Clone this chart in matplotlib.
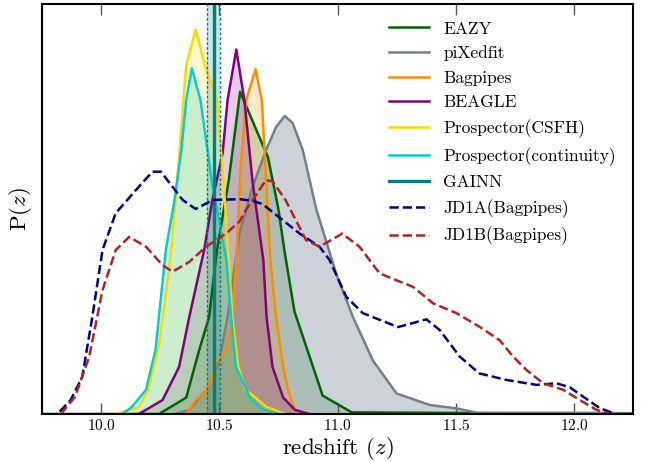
import numpy as np
import matplotlib
matplotlib.use("Agg")
import matplotlib.pyplot as plt

plt.rcParams['font.family'] = 'cmr10'
plt.rcParams['mathtext.fontset'] = 'cm'
plt.rcParams['axes.formatter.use_mathtext'] = True

# posterior curves (arbitrary units, 0..1)
eazy_z = [9.75, 10.245, 10.36, 10.415, 10.457, 10.49, 10.54, 10.588, 10.706, 10.75, 10.775,
          10.818, 10.937, 11.06, 12.25]
eazy_p = [0, 0, 0.04, 0.156, 0.237, 0.40, 0.57, 0.786, 0.626, 0.50, 0.40,
          0.25, 0.045, 0.004, 0]

pix_z = [10.31, 10.373, 10.444, 10.50, 10.535, 10.585, 10.64, 10.698, 10.74, 10.777, 10.81,
         10.853, 10.91, 10.994, 11.065, 11.15, 11.25, 11.39, 11.50, 11.59, 12.0, 12.25]
pix_p = [0, 0.01, 0.058, 0.13, 0.237, 0.44, 0.553, 0.644, 0.70, 0.727, 0.71,
         0.644, 0.50, 0.343, 0.237, 0.13, 0.05, 0.022, 0.014, 0.003, 0.003, 0.002]

bag_z = [10.36, 10.40, 10.436, 10.465, 10.49, 10.528, 10.556, 10.572, 10.59, 10.614, 10.653,
         10.68, 10.70, 10.716, 10.74, 10.77, 10.79, 10.825]
bag_p = [0, 0.034, 0.05, 0.083, 0.13, 0.156, 0.237, 0.376, 0.60, 0.766, 0.841,
         0.766, 0.55, 0.376, 0.237, 0.115, 0.06, 0]

bea_z = [10.16, 10.26, 10.33, 10.373, 10.436, 10.47, 10.514, 10.535, 10.572, 10.606, 10.64,
         10.686, 10.70, 10.725, 10.77, 10.82, 10.88]
bea_p = [0, 0.034, 0.115, 0.237, 0.40, 0.52, 0.636, 0.766, 0.889, 0.766, 0.57,
         0.376, 0.237, 0.115, 0.04, 0.01, 0]

csfh_z = [10.06, 10.16, 10.20, 10.245, 10.28, 10.30, 10.34, 10.36, 10.40, 10.44, 10.49,
          10.52, 10.54, 10.555, 10.58, 10.61, 10.70, 10.78]
csfh_p = [0, 0.017, 0.06, 0.17, 0.32, 0.42, 0.70, 0.85, 0.938, 0.85, 0.766,
          0.55, 0.376, 0.237, 0.115, 0.06, 0.017, 0]

cont_z = [10.09, 10.13, 10.19, 10.23, 10.274, 10.31, 10.338, 10.36, 10.384, 10.42, 10.44,
          10.47, 10.53, 10.55, 10.57, 10.63, 10.68, 10.75]
cont_p = [0, 0.017, 0.059, 0.156, 0.40, 0.52, 0.636, 0.766, 0.843, 0.766, 0.685,
          0.56, 0.376, 0.237, 0.115, 0.04, 0.012, 0]

gainn_med = 10.477
gainn_lo = 10.45
gainn_hi = 10.503

jd1a_z = [9.825, 9.871, 9.92, 9.963, 10.006, 10.062, 10.147, 10.217, 10.253, 10.345, 10.40,
          10.472, 10.585, 10.64, 10.683, 10.768, 10.84, 10.924, 10.966, 11.037, 11.107,
          11.256, 11.376, 11.432, 11.517, 11.60, 11.715, 11.842, 11.926, 11.983, 12.04,
          12.11, 12.167]
jd1a_p = [0.006, 0.034, 0.09, 0.237, 0.40, 0.49, 0.546, 0.591, 0.591, 0.522, 0.50,
          0.522, 0.524, 0.52, 0.512, 0.473, 0.44, 0.408, 0.376, 0.286, 0.246,
          0.212, 0.231, 0.205, 0.14, 0.099, 0.083, 0.071, 0.075, 0.065, 0.042,
          0.014, 0.002]

jd1b_z = [9.83, 9.89, 9.95, 10.006, 10.062, 10.119, 10.19, 10.26, 10.302, 10.373, 10.444,
          10.528, 10.585, 10.613, 10.698, 10.726, 10.78, 10.867, 10.924, 11.02, 11.093,
          11.178, 11.263, 11.32, 11.404, 11.503, 11.60, 11.686, 11.743, 11.80, 11.87,
          11.955, 12.025, 12.096, 12.15]
jd1b_p = [0, 0.042, 0.14, 0.302, 0.40, 0.432, 0.408, 0.363, 0.347, 0.371, 0.408,
          0.44, 0.469, 0.498, 0.571, 0.567, 0.522, 0.424, 0.408, 0.44, 0.408,
          0.343, 0.323, 0.31, 0.27, 0.246, 0.213, 0.18, 0.14, 0.107, 0.075,
          0.059, 0.034, 0.01, 0]

fig = plt.figure(figsize=(6.52, 4.62), dpi=100)
ax = fig.add_axes([0.0644, 0.1039, 0.9065, 0.8874])

lw = 1.8
ax.fill_between(eazy_z, eazy_p, color='darkgreen', alpha=0.2, lw=0)
ax.plot(eazy_z, eazy_p, color='darkgreen', lw=lw, label='EAZY')
ax.fill_between(pix_z, pix_p, color='slategray', alpha=0.35, lw=0)
ax.plot(pix_z, pix_p, color='slategray', lw=lw, label='piXedfit')
ax.fill_between(bag_z, bag_p, color='darkorange', alpha=0.2, lw=0)
ax.plot(bag_z, bag_p, color='darkorange', lw=lw, label='Bagpipes')
ax.fill_between(bea_z, bea_p, color='purple', alpha=0.2, lw=0)
ax.plot(bea_z, bea_p, color='purple', lw=lw, label='BEAGLE')
ax.fill_between(csfh_z, csfh_p, color='gold', alpha=0.2, lw=0)
ax.plot(csfh_z, csfh_p, color='gold', lw=lw, label='Prospector(CSFH)')
ax.fill_between(cont_z, cont_p, color='darkturquoise', alpha=0.2, lw=0)
ax.plot(cont_z, cont_p, color='darkturquoise', lw=lw, label='Prospector(continuity)')

ax.axvspan(gainn_lo, gainn_hi, color='teal', alpha=0.2, lw=0)
ax.axvline(gainn_med, color='teal', lw=2.4, label='GAINN')
ax.axvline(gainn_lo, color='teal', lw=1, ls='--', dashes=(2, 1.5))
ax.axvline(gainn_hi, color='teal', lw=1, ls='--', dashes=(2, 1.5))

ax.plot(jd1a_z, jd1a_p, color='navy', lw=lw, ls='--', label='JD1A(Bagpipes)')
ax.plot(jd1b_z, jd1b_p, color='firebrick', lw=lw, ls='--', label='JD1B(Bagpipes)')

ax.set_xlim(9.75, 12.25)
ax.set_ylim(0, 1)
ax.set_xticks([10.0, 10.5, 11.0, 11.5, 12.0])
ax.set_yticks([])
ax.tick_params(axis='x', direction='in', length=8, width=1, top=True, labelsize=11, pad=3,
               color='#555555')
for s in ax.spines.values():
    s.set_linewidth(1.5)
ax.set_xlabel(r'redshift ($z$)', fontsize=16.5, labelpad=1)
ax.set_ylabel(r'P($z$)', fontsize=16.5, labelpad=6)

ax.legend(loc='upper right', bbox_to_anchor=(0.983, 0.975), frameon=False, fontsize=12.5,
          handlelength=2.3, labelspacing=0.52, borderaxespad=0)

fig.savefig('out.png', dpi=100)
